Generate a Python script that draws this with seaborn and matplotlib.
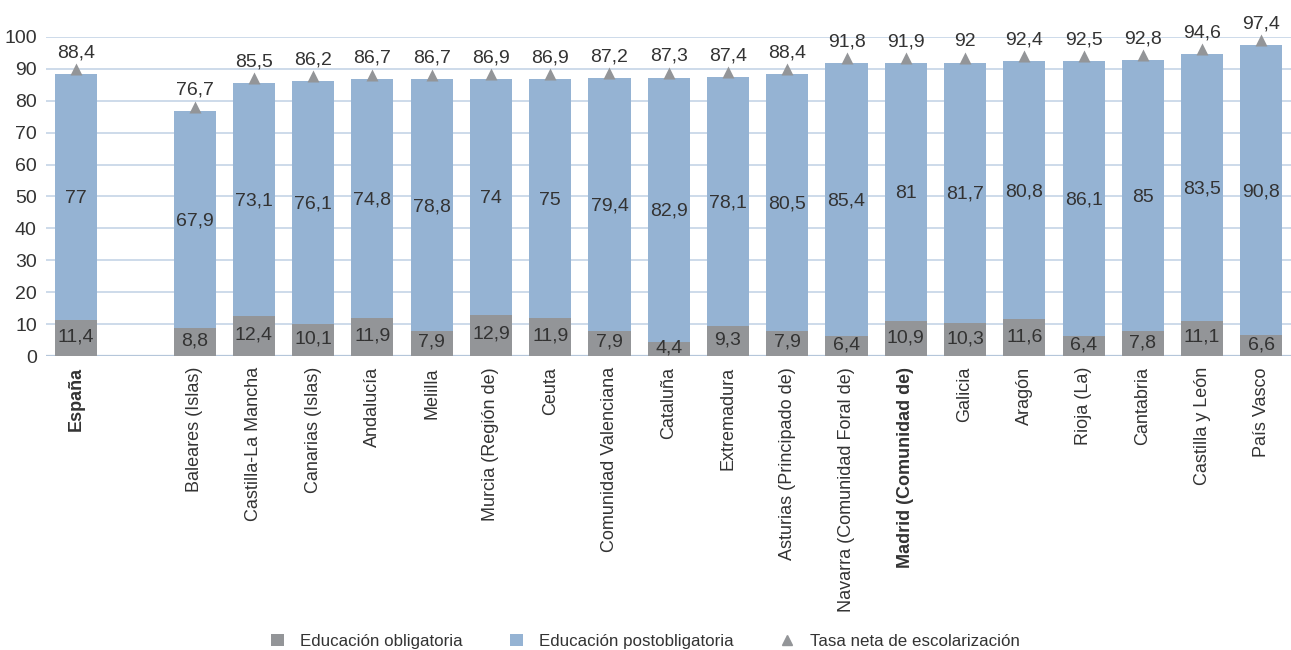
import matplotlib
matplotlib.use("Agg")
import matplotlib.pyplot as plt
import seaborn as sns
import pandas as pd
import numpy as np
from matplotlib.lines import Line2D
from matplotlib.patches import Patch

categories = ["España", " ", "Baleares (Islas)", "Castilla-La Mancha", "Canarias (Islas)", "Andalucía",
              "Melilla", "Murcia (Región de)", "Ceuta", "Comunidad Valenciana", "Cataluña",
              "Extremadura", "Asturias (Principado de)", "Navarra (Comunidad Foral de)",
              "Madrid (Comunidad de)", "Galicia", "Aragón", "Rioja (La)", "Cantabria",
              "Castilla y León", "País Vasco"]
obligatoria = [11.4, None, 8.8, 12.4, 10.1, 11.9, 7.9, 12.9, 11.9, 7.9, 4.4, 9.3, 7.9, 6.4, 10.9,
               10.3, 11.6, 6.4, 7.8, 11.1, 6.6]
postobligatoria = [77, None, 67.9, 73.1, 76.1, 74.8, 78.8, 74, 75, 79.4, 82.9, 78.1, 80.5, 85.4, 81,
                   81.7, 80.8, 86.1, 85, 83.5, 90.8]
tasa = [88.4, None, 76.7, 85.5, 86.2, 86.7, 86.7, 86.9, 86.9, 87.2, 87.3, 87.4, 88.4, 91.8, 91.9,
        92, 92.4, 92.5, 92.8, 94.6, 97.4]
bold_labels = ["España", "Madrid (Comunidad de)"]

C_GRAY = "#939598"
C_BLUE = "#95b3d3"
C_GRID = "#cddbea"
C_TEXT = "#333333"

sns.set_style("white")
plt.rcParams["font.family"] = ["Liberation Sans", "DejaVu Sans"]

df = pd.DataFrame({"cat": categories, "obl": obligatoria, "post": postobligatoria, "tasa": tasa})
df["stack"] = df["obl"].fillna(0) + df["post"].fillna(0)
df["obl0"] = df["obl"].fillna(0)

fig = plt.figure(figsize=(12.91, 6.5), dpi=100)
ax = fig.add_axes([0.036, 0.4523, 0.964, 0.4908])

sns.barplot(data=df, x="cat", y="stack", order=categories, color=C_BLUE, width=0.71,
            saturation=1, ax=ax, zorder=3, linewidth=0, edgecolor="none")
sns.barplot(data=df, x="cat", y="obl0", order=categories, color=C_GRAY, width=0.71,
            saturation=1, ax=ax, zorder=4, linewidth=0, edgecolor="none")

ax.set_ylim(0, 100)
ax.set_xlim(-0.5, len(categories) - 0.5)
ax.set_yticks(range(0, 101, 10))
ax.yaxis.grid(True, color=C_GRID, linewidth=1.4, zorder=0)
ax.set_axisbelow(True)
for s in ax.spines.values():
    s.set_visible(False)
ax.axhline(0, color="#b5c6da", linewidth=1.6, zorder=1)
ax.set_xlabel("")
ax.set_ylabel("")
ax.tick_params(axis="y", length=0, labelsize=14, labelcolor=C_TEXT, pad=7)
ax.tick_params(axis="x", length=0, labelsize=13, labelcolor=C_TEXT, pad=8)
ax.set_xticks(range(len(categories)))
ax.set_xticklabels(categories, rotation=90, va="top", ha="center")
for lab in ax.get_xticklabels():
    if lab.get_text() in bold_labels:
        lab.set_fontweight("bold")

def fmt(v):
    s = ("%.1f" % v).rstrip("0").rstrip(".")
    return s.replace(".", ",")

for i, row in df.iterrows():
    if pd.isna(row["tasa"]):
        continue
    o, p, t = row["obl"], row["post"], row["tasa"]
    ax.text(i, o / 2 + 0.3, fmt(o), ha="center", va="center", fontsize=14, color=C_TEXT, zorder=6)
    ax.text(i, o + p / 2 - 0.5, fmt(p), ha="center", va="center", fontsize=14, color=C_TEXT, zorder=6)
    ax.text(i, t + 4.0, fmt(t), ha="center", va="bottom", fontsize=14, color=C_TEXT, zorder=6,
            clip_on=False)
    ax.scatter([i], [t + 1.5], marker="^", s=75, color=C_GRAY, zorder=7, clip_on=False, linewidths=0)

handles = [Patch(facecolor=C_GRAY, edgecolor="none"),
           Patch(facecolor=C_BLUE, edgecolor="none"),
           Line2D([], [], marker="^", color=C_GRAY, linestyle="none", markersize=7)]
fig.legend(handles, ["Educación obligatoria", "Educación postobligatoria", "Tasa neta de escolarización"],
           loc="lower center", bbox_to_anchor=(0.5, -0.022), ncol=3, frameon=False, fontsize=12.2,
           handlelength=0.75, handleheight=0.75, columnspacing=2.8, handletextpad=0.95,
           labelcolor=C_TEXT)

fig.savefig("out.png", dpi=100)
